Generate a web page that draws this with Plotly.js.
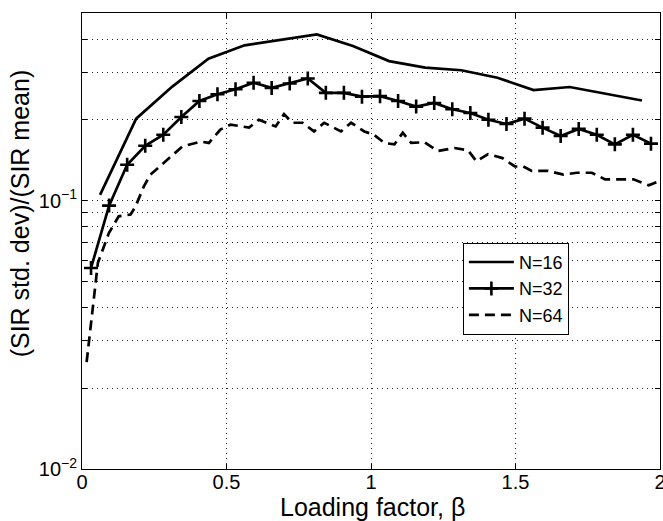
<!DOCTYPE html>
<html>
<head>
<meta charset="utf-8">
<script src="https://cdn.plot.ly/plotly-3.0.1.min.js"></script>
<style>html,body{margin:0;padding:0;background:#fff;}#chart{width:663px;height:521px;}</style>
</head>
<body>
<div id="chart"></div>
<script>
// N=16 (solid)
const x16 = [0.0625,0.1875,0.3125,0.4375,0.5625,0.6875,0.8125,0.9375,1.0625,1.1875,1.3125,1.4375,1.5625,1.6875,1.8125,1.9375];
const y16 = [0.105,0.202,0.266,0.338,0.379,0.396,0.416,0.377,0.331,0.313,0.306,0.287,0.258,0.265,0.250,0.236];

// N=32 (solid with + markers)
const x32 = [0.03125,0.09375,0.15625,0.21875,0.28125,0.34375,0.40625,0.46875,0.53125,0.59375,0.65625,0.71875,0.78125,0.84375,0.90625,0.96875,
             1.03125,1.09375,1.15625,1.21875,1.28125,1.34375,1.40625,1.46875,1.53125,1.59375,1.65625,1.71875,1.78125,1.84375,1.90625,1.96875];
const y32 = [0.0561,0.0958,0.136,0.160,0.176,0.205,0.235,0.249,0.260,0.275,0.263,0.273,0.285,0.252,0.252,0.244,
             0.245,0.235,0.224,0.231,0.219,0.212,0.200,0.193,0.202,0.187,0.174,0.185,0.176,0.162,0.176,0.163];

// N=64 (dashed)
const x64 = [0.016,0.055,0.093,0.127,0.168,0.185,0.214,0.237,0.347,0.411,0.439,0.479,0.514,0.578,0.612,0.670,0.699,0.728,0.763,0.803,0.838,0.861,0.896,0.931,0.977,1.010,1.046,1.081,1.110,1.139,1.185,1.231,1.289,1.336,1.365,1.405,1.455,1.498,1.527,1.556,1.613,1.666,1.712,1.764,1.810,1.862,1.908,1.961,1.995];
const y64 = [0.025,0.0586,0.0757,0.0874,0.0887,0.095,0.113,0.125,0.159,0.166,0.164,0.184,0.192,0.187,0.200,0.189,0.210,0.195,0.195,0.181,0.195,0.189,0.181,0.195,0.181,0.176,0.164,0.162,0.179,0.164,0.165,0.153,0.157,0.154,0.140,0.149,0.144,0.134,0.134,0.129,0.129,0.125,0.127,0.127,0.120,0.120,0.120,0.114,0.118];

const seriesNames = ['N=16','N=32','N=64'];
const xTickVals = [0,0.5,1,1.5,2];
const xTickText = ['0','0.5','1','1.5','2'];
const yTickVals = [0.01,0.02,0.03,0.04,0.05,0.06,0.07,0.08,0.09,0.1,0.2,0.3,0.4,0.5];
const yTickText = ['10<sup>−2</sup>','','','','','','','','','10<sup>−1</sup>','','','',''];
const xTitle = 'Loading factor, β';
const yTitle = '(SIR std. dev)/(SIR mean)';

const FONT = 'Liberation Sans, Arial, Helvetica, sans-serif';
const GRID = {showgrid:true, gridcolor:'#222', griddash:'1px,4px', gridwidth:1};

const traces = [
  {x:x16, y:y16, name:seriesNames[0], mode:'lines', line:{color:'#000', width:2.7}},
  {x:x32, y:y32, name:seriesNames[1], mode:'lines+markers', line:{color:'#000', width:2.7},
   marker:{symbol:'cross-thin', size:10, color:'#000', line:{color:'#000', width:2.6}}},
  {x:x64, y:y64, name:seriesNames[2], mode:'lines', line:{color:'#000', width:2.7, dash:'10px,6px'}}
];

const layout = {
  width:663, height:521,
  margin:{l:82, r:3, t:13, b:52},
  paper_bgcolor:'#fff', plot_bgcolor:'#fff',
  font:{family:FONT, color:'#000', size:20},
  showlegend:true,
  legend:{x:0.659, y:0.496, xanchor:'left', yanchor:'top', bgcolor:'#fff', bordercolor:'#000', borderwidth:1,
          font:{family:FONT, size:18, color:'#000'}, tracegroupgap:0, itemwidth:45},
  xaxis:Object.assign({range:[0,2], tickvals:xTickVals, ticktext:xTickText, ticks:'inside', ticklen:5, tickcolor:'#000',
         showline:true, linecolor:'#000', linewidth:1, mirror:'ticks', zeroline:false, ticklabeloverflow:'allow',
         ticklabelstandoff:-5,
         tickfont:{family:FONT, size:20, color:'#000'}}, GRID),
  yaxis:Object.assign({type:'log', range:[-2, Math.log10(0.5)], tickvals:yTickVals, ticktext:yTickText, ticks:'inside', ticklen:5, tickcolor:'#000',
         showline:true, linecolor:'#000', linewidth:1, mirror:'ticks', zeroline:false,
         tickfont:{family:FONT, size:20, color:'#000'}}, GRID),
  annotations:[
    {text:xTitle, xref:'paper', yref:'paper', x:0.503, y:-0.083, xanchor:'center', yanchor:'middle', showarrow:false,
     font:{family:FONT, size:25, color:'#000'}},
    {text:yTitle, xref:'paper', yref:'paper', x:-0.107, y:0.561, xanchor:'center', yanchor:'middle', textangle:-90, showarrow:false,
     font:{family:FONT, size:25, color:'#000'}}
  ]
};

Plotly.newPlot('chart', traces, layout, {displayModeBar:false, staticPlot:true});
</script>
</body>
</html>
